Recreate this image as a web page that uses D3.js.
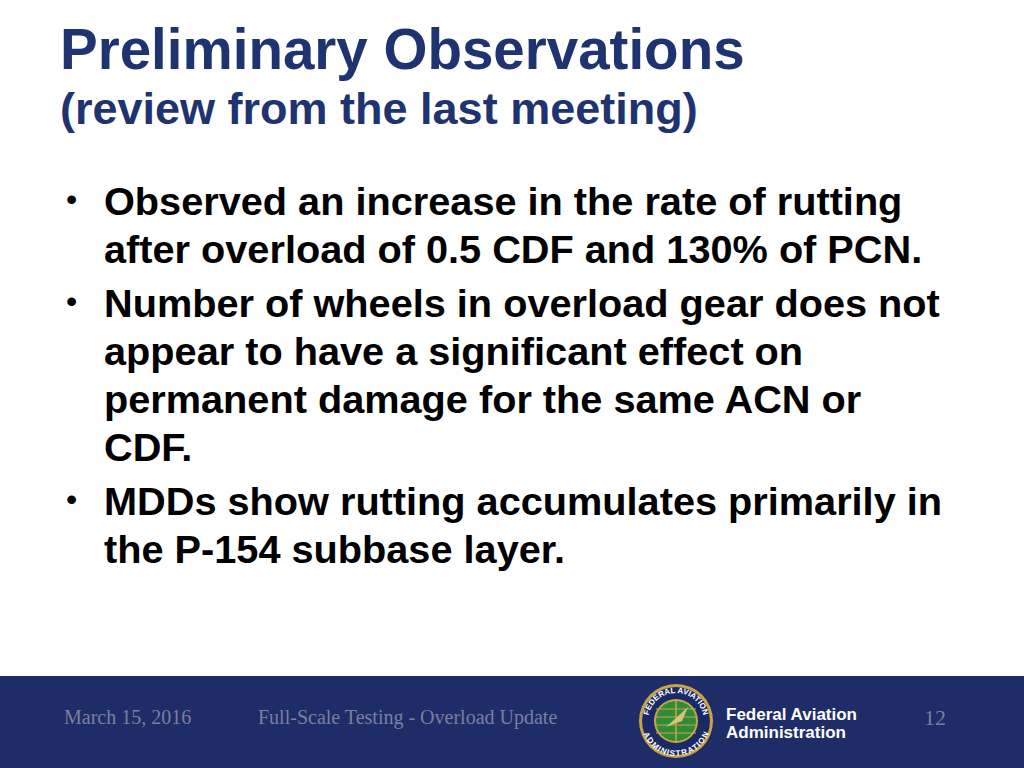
<!DOCTYPE html>
<html><head><meta charset="utf-8">
<script src="https://cdn.jsdelivr.net/npm/d3@7"></script>
<style>body{margin:0;background:#fff}</style></head>
<body><svg id="s" width="1024" height="768"></svg>
<script>
const titleLines = ["Preliminary Observations", "(review from the last meeting)"];
const bullets = [
  ["Observed an increase in the rate of rutting", "after overload of 0.5 CDF and 130% of PCN."],
  ["Number of wheels in overload gear does not", "appear to have a significant effect on", "permanent damage for the same ACN or", "CDF."],
  ["MDDs show rutting accumulates primarily in", "the P-154 subbase layer."]
];
const footerDate = "March 15, 2016";
const footerTitle = "Full-Scale Testing - Overload Update";
const footerOrg = ["Federal Aviation", "Administration"];
const pageNum = "12";

const svg = d3.select("#s");
const sans = "'Liberation Sans', Arial, sans-serif";
const serif = "'Liberation Serif', 'Times New Roman', serif";
const blue = "#1f3370";

svg.append("text").attr("x",60).attr("y",69).attr("font-family",sans).attr("font-weight","bold")
  .attr("font-size",56.5).attr("fill",blue).text(titleLines[0]);
svg.append("text").attr("x",60).attr("y",124).attr("font-family",sans).attr("font-weight","bold")
  .attr("font-size",45).attr("fill",blue).text(titleLines[1]);

const lineH = 48, gap = 6;
let y = 215;
bullets.forEach(b => {
  svg.append("text").attr("x",66).attr("y",y-5).attr("font-family",sans).attr("font-size",32).text("•");
  b.forEach(l => {
    svg.append("text").attr("x",104).attr("y",y).attr("font-family",sans).attr("font-weight","bold")
      .attr("font-size",39.7).attr("fill","#000").text(l);
    y += lineH;
  });
  y += gap;
});

svg.append("rect").attr("x",0).attr("y",676).attr("width",1024).attr("height",92).attr("fill","#1e2d67");
svg.append("text").attr("x",64).attr("y",724).attr("font-family",serif).attr("font-size",20).attr("fill","#7a7f9e").text(footerDate);
svg.append("text").attr("x",258).attr("y",724).attr("font-family",serif).attr("font-size",20).attr("fill","#7a7f9e").text(footerTitle);
svg.append("text").attr("x",946).attr("y",725).attr("font-family",serif).attr("font-size",22).attr("fill","#7a7f9e").attr("text-anchor","end").text(pageNum);

const g = svg.append("g").attr("transform","translate(676,721)");
g.append("circle").attr("r",37).attr("fill","#c9a445");
g.append("circle").attr("r",34).attr("fill","#1a2a66");
g.append("circle").attr("r",22).attr("fill","#c9a445");
g.append("circle").attr("r",20).attr("fill","#2f8a3a");
[-12,-4,4,12].forEach(d=>g.append("line").attr("x1",-20).attr("x2",20).attr("y1",d).attr("y2",d).attr("stroke","#c9a445").attr("stroke-width",1));
g.append("line").attr("x1",0).attr("x2",0).attr("y1",-20).attr("y2",20).attr("stroke","#c9a445").attr("stroke-width",1.5);
g.append("path").attr("d","M-10,6 L12,-14 L6,0 Z").attr("fill","#d8c27a");
g.append("path").attr("id","arcTop").attr("d","M-28,0 A28,28 0 0 1 28,0").attr("fill","none");
g.append("path").attr("id","arcBot").attr("d","M-28,0 A28,28 0 0 0 28,0").attr("fill","none");
g.append("text").attr("font-family",sans).attr("font-size",8).attr("font-weight","bold").attr("fill","#fff")
 .append("textPath").attr("href","#arcTop").attr("startOffset","50%").attr("text-anchor","middle").text("FEDERAL AVIATION");
g.append("text").attr("font-family",sans).attr("font-size",8).attr("font-weight","bold").attr("fill","#fff").attr("dy",7)
 .append("textPath").attr("href","#arcBot").attr("startOffset","50%").attr("text-anchor","middle").text("ADMINISTRATION");

footerOrg.forEach((t,i)=>svg.append("text").attr("x",726).attr("y",720+i*18).attr("font-family",sans)
  .attr("font-weight","bold").attr("font-size",17).attr("fill","#fff").text(t));
</script></body></html>
